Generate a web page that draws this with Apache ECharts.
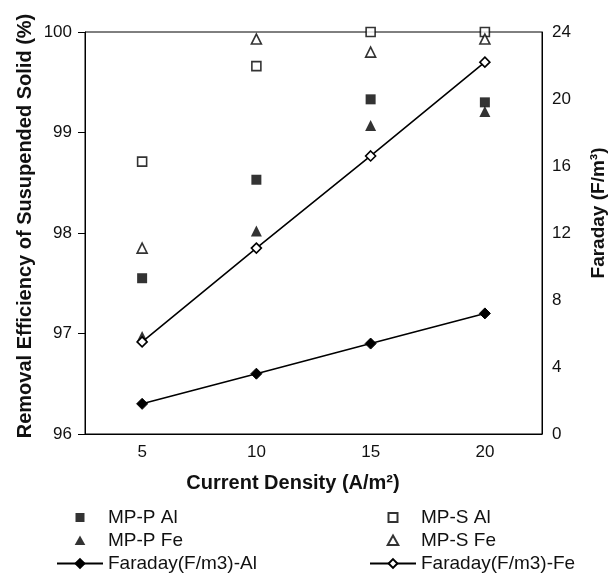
<!DOCTYPE html>
<html>
<head>
<meta charset="utf-8">
<script src="https://cdn.jsdelivr.net/npm/echarts@6/dist/echarts.min.js"></script>
<style>
html,body{margin:0;padding:0;background:#fff;}
#c{width:612px;height:579px;}
</style>
</head>
<body>
<div id="c"></div>
<script>
var categories = ['5', '10', '15', '20'];
var mpPAl = [97.55, 98.53, 99.33, 99.30];
var mpSAl = [98.71, 99.66, 100.0, 100.0];
var mpPFe = [96.97, 98.02, 99.07, 99.21];
var mpSFe = [97.85, 99.93, 99.80, 99.93];
var faradayAl = [1.8, 3.6, 5.4, 7.2];
var faradayFe = [5.5, 11.1, 16.6, 22.2];
var leftTicks = [96, 100, 1];
var rightTicks = [0, 24, 4];

var FONT = '"Liberation Sans", Arial, sans-serif';
var SQ = 'path://M0,0L0,0M11,11L11,11M1,1L10,1L10,10L1,10Z';
var TRI = 'path://M0,0L0,0M11,11L11,11M5.5,0.5L10.8,10L0.2,10Z';
var chart = echarts.init(document.getElementById('c'), null, {renderer: 'canvas'});

var legendBase = {
  orient: 'vertical', top: 508, height: 80, padding: 0,
  itemWidth: 46, itemHeight: 11, itemGap: 4,
  textStyle: {color: '#111', fontFamily: FONT, fontSize: 19}
};

var option = {
  backgroundColor: '#fff',
  animation: false,
  grid: {left: 85, right: 70, top: 32, bottom: 145, show: true, borderColor: '#000', borderWidth: 1, backgroundColor: 'transparent'},
  xAxis: {
    type: 'category', data: categories, boundaryGap: true,
    axisLine: {lineStyle: {color: '#000', width: 1}},
    axisTick: {show: false},
    axisLabel: {color: '#111', fontFamily: FONT, fontSize: 17, margin: 10},
    splitLine: {show: false}
  },
  yAxis: [{
    type: 'value', min: leftTicks[0], max: leftTicks[1], interval: leftTicks[2], position: 'left',
    axisLine: {show: true, lineStyle: {color: '#000', width: 1}},
    axisTick: {show: true, length: 7, lineStyle: {color: '#000'}},
    axisLabel: {color: '#111', fontFamily: FONT, fontSize: 17, margin: 13},
    splitLine: {show: false}
  }, {
    type: 'value', min: rightTicks[0], max: rightTicks[1], interval: rightTicks[2], position: 'right',
    axisLine: {show: true, lineStyle: {color: '#000', width: 1}},
    axisTick: {show: false},
    axisLabel: {color: '#111', fontFamily: FONT, fontSize: 17, margin: 10},
    splitLine: {show: false}
  }],
  legend: [Object.assign({}, legendBase, {
    left: 56,
    data: [{name: 'MP-P Al', icon: SQ}, {name: 'MP-P Fe', icon: TRI}, 'Faraday(F/m3)-Al']
  }), Object.assign({}, legendBase, {
    left: 369,
    data: [{name: 'MP-S Al', icon: SQ}, {name: 'MP-S Fe', icon: TRI}, 'Faraday(F/m3)-Fe']
  })],
  graphic: [{
    type: 'text', x: 25, y: 226, rotation: Math.PI / 2,
    style: {text: 'Removal Efficiency of Susupended Solid (%)', font: 'bold 20px ' + FONT, fill: '#111', textAlign: 'center', textVerticalAlign: 'middle'}
  }, {
    type: 'text', x: 599, y: 213, rotation: Math.PI / 2,
    style: {text: 'Faraday (F/m\u00B3)', font: 'bold 19px ' + FONT, fill: '#111', textAlign: 'center', textVerticalAlign: 'middle'}
  }, {
    type: 'text', x: 293, y: 483,
    style: {text: 'Current Density (A/m\u00B2)', font: 'bold 20px ' + FONT, fill: '#111', textAlign: 'center', textVerticalAlign: 'middle'}
  }],
  series: [{
    name: 'MP-P Al', type: 'scatter', data: mpPAl, symbol: 'rect', symbolSize: 10,
    itemStyle: {color: '#000'}
  }, {
    name: 'MP-S Al', type: 'scatter', data: mpSAl, symbol: 'rect', symbolSize: 9,
    itemStyle: {color: '#fff', borderColor: '#000', borderWidth: 1.6}
  }, {
    name: 'MP-P Fe', type: 'scatter', data: mpPFe, symbol: 'triangle', symbolSize: 11,
    itemStyle: {color: '#000'}
  }, {
    name: 'MP-S Fe', type: 'scatter', data: mpSFe, symbol: 'triangle', symbolSize: 10,
    itemStyle: {color: '#fff', borderColor: '#000', borderWidth: 1.6}
  }, {
    name: 'Faraday(F/m3)-Al', type: 'line', yAxisIndex: 1, data: faradayAl, symbol: 'diamond', symbolSize: 11,
    showAllSymbol: true,
    lineStyle: {color: '#000', width: 1.6}, itemStyle: {color: '#000', borderColor: '#000', borderWidth: 1}
  }, {
    name: 'Faraday(F/m3)-Fe', type: 'line', yAxisIndex: 1, data: faradayFe, symbol: 'diamond', symbolSize: 10,
    showAllSymbol: true,
    lineStyle: {color: '#000', width: 1.6}, itemStyle: {color: '#fff', borderColor: '#000', borderWidth: 1.6}
  }]
};
chart.setOption(option);
</script>
</body>
</html>
